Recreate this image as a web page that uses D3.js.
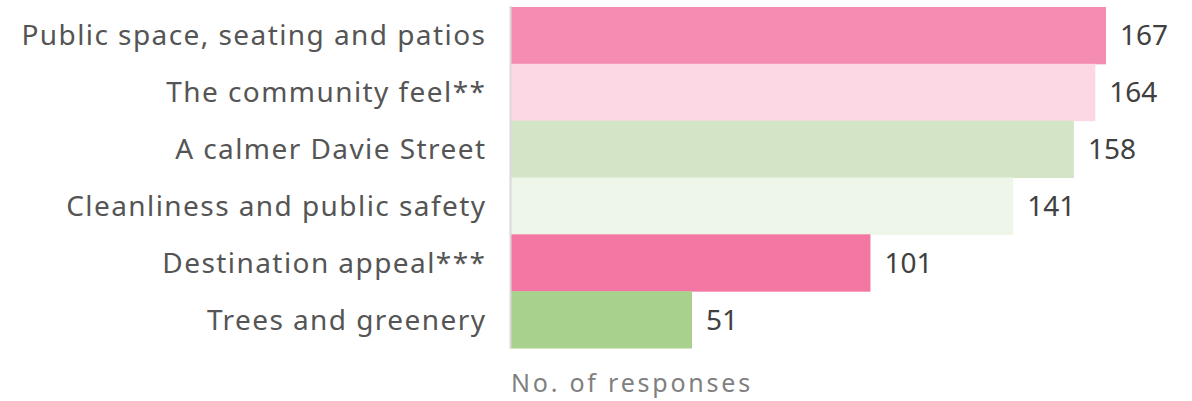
<!DOCTYPE html>
<html><head><meta charset="utf-8">
<script src="https://cdn.jsdelivr.net/npm/d3@7"></script>
<style>body{margin:0;background:#fff}svg{display:block}</style>
</head><body>
<svg id="c" width="1192" height="401"></svg>
<script>
const categories = ["Public space, seating and patios","The community feel**","A calmer Davie Street","Cleanliness and public safety","Destination appeal***","Trees and greenery"];
const values = [167,164,158,141,101,51];
const colors = ["#f58cb1","#fcd8e4","#d3e5c6","#eef5e9","#f377a2","#a9d18e"];
const axisTitle = "No. of responses";

const svg = d3.select("#c");
const font = "'Noto Sans', sans-serif";
const x = d3.scaleLinear().domain([0,167]).range([510,1106]);
const y = d3.scaleBand().domain(categories).range([7,348]).padding(0);

svg.selectAll("rect.bar").data(categories).join("rect")
  .attr("class","bar")
  .attr("x", x(0)).attr("y", d=>y(d))
  .attr("width", (d,i)=>x(values[i])-x(0))
  .attr("height", y.bandwidth()+0.5)
  .attr("fill",(d,i)=>colors[i]);

svg.append("line").attr("x1",510.5).attr("x2",510.5).attr("y1",6).attr("y2",348)
  .attr("stroke","#d9d9d9").attr("stroke-width",2);

const cats = svg.selectAll("text.cat").data(categories).join("text")
  .attr("class","cat")
  .attr("x",485).attr("y",d=>y(d)+y.bandwidth()/2+10)
  .attr("text-anchor","end").attr("font-family",font).attr("font-size",28)
  .attr("fill","#555555").text(d=>d);
const w0 = cats.nodes()[0].getComputedTextLength();
const ls = (465 - w0) / categories[0].length;
cats.attr("letter-spacing", ls).attr("x", 485 + ls);

svg.selectAll("text.val").data(categories).join("text")
  .attr("class","val")
  .attr("x",(d,i)=>x(values[i])+14).attr("y",d=>y(d)+y.bandwidth()/2+10)
  .attr("font-family",font).attr("font-size",28)
  .attr("fill","#404040").text((d,i)=>values[i]);

const at = svg.append("text").attr("x",511).attr("y",392)
  .attr("font-family",font).attr("font-size",25).attr("fill","#808080").text(axisTitle);
const wa = at.node().getComputedTextLength();
at.attr("letter-spacing", (242 - wa) / axisTitle.length);
</script>
</body></html>
